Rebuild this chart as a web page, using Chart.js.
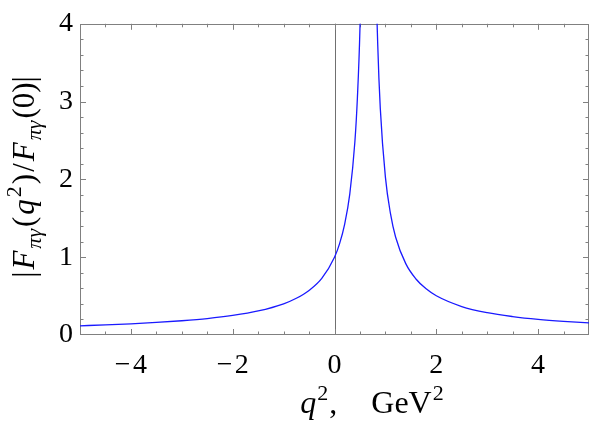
<!DOCTYPE html>
<html>
<head>
<meta charset="utf-8">
<script src="https://cdn.jsdelivr.net/npm/chart.js@4"></script>
<style>
  html, body { margin: 0; padding: 0; background: #fff; }
  #wrap { width: 591px; height: 431px; position: relative; }
</style>
</head>
<body>
<div id="wrap"><canvas id="c" width="591" height="431"></canvas></div>
<script>
// q^2 values (GeV^2) and |F(q^2)/F(0)|; null = gap at the pole
const qValues = [-5, -4.5, -4, -3.5, -3, -2.5, -2, -1.5, -1, -0.75, -0.5, -0.25, 0, 0.1, 0.2, 0.3, 0.4, 0.45, 0.5, 0.55, 0.6,
                 0.67,
                 0.75, 0.8, 0.85, 0.9, 1.0, 1.1, 1.2, 1.4, 1.6, 1.8, 2.0, 2.5, 3.0, 3.5, 4.0, 4.5, 5.0];
const ffValues = [0.118, 0.130, 0.143, 0.161, 0.183, 0.211, 0.251, 0.309, 0.401, 0.472, 0.573, 0.728, 1.0, 1.175, 1.426, 1.811, 2.48, 3.05, 3.94, 5.58, 9.6,
                  null,
                  8.4, 5.15, 3.72, 2.91, 2.03, 1.56, 1.26, 0.917, 0.72, 0.593, 0.504, 0.366, 0.287, 0.237, 0.201, 0.175, 0.155];
const xTickValues = [-4, -2, 0, 2, 4];
const yTickValues = [0, 1, 2, 3, 4];
const xMinorStep = 0.5;
const yMinorStep = 0.2;

const SERIF = "'Liberation Serif', 'DejaVu Serif', serif";
const FRAME = '#808080';

function fmt(v) { return v < 0 ? '\u2212\u200a' + Math.abs(v) : String(v); }

function drawRich(ctx, parts, base, spacing) {
  let w = 0;
  for (const p of parts) {
    ctx.font = (p.it ? 'italic ' : '') + Math.round(base * (p.s || 1)) + 'px ' + SERIF;
    p.w = ctx.measureText(p.t).width + (p.kern || 0) * base + spacing;
    w += p.w;
  }
  w -= spacing;
  let x = -w / 2;
  ctx.textBaseline = 'alphabetic';
  ctx.textAlign = 'left';
  for (const p of parts) {
    ctx.font = (p.it ? 'italic ' : '') + Math.round(base * (p.s || 1)) + 'px ' + SERIF;
    ctx.fillText(p.t, x + (p.pre || 0) * base, (p.dy || 0) * base);
    x += p.w;
  }
  return w;
}

const framePlugin = {
  id: 'frame',
  beforeDatasetsDraw(chart) {
    const { ctx, chartArea: a, scales } = chart;
    const xs = scales.x, ys = scales.y;
    ctx.save();
    ctx.strokeStyle = FRAME;
    ctx.lineWidth = 1;
    ctx.strokeRect(Math.round(a.left) + 0.5, Math.round(a.top) + 0.5,
                   Math.round(a.right - a.left) - 1, Math.round(a.bottom - a.top) - 1);
    const x0 = Math.round(xs.getPixelForValue(0)) + 0.5;
    ctx.strokeStyle = '#707070';
    ctx.beginPath(); ctx.moveTo(x0, a.top); ctx.lineTo(x0, a.bottom); ctx.stroke();
    ctx.strokeStyle = FRAME;
    ctx.beginPath();
    for (let v = xs.min; v <= xs.max + 1e-9; v += xMinorStep) {
      const vv = Math.round(v * 100) / 100;
      const major = xTickValues.includes(vv);
      const len = major ? 6 : 3.5;
      const px = Math.round(xs.getPixelForValue(vv)) + 0.5;
      if (px <= a.left + 1 || px >= a.right - 1) continue;
      ctx.moveTo(px, a.bottom); ctx.lineTo(px, a.bottom - len);
      ctx.moveTo(px, a.top); ctx.lineTo(px, a.top + len);
    }
    for (let v = ys.min; v <= ys.max + 1e-9; v += yMinorStep) {
      const vv = Math.round(v * 100) / 100;
      const major = yTickValues.includes(vv);
      const len = major ? 6 : 3.5;
      const py = Math.round(ys.getPixelForValue(vv)) + 0.5;
      if (py <= a.top + 1 || py >= a.bottom - 1) continue;
      ctx.moveTo(a.left, py); ctx.lineTo(a.left + len, py);
      ctx.moveTo(a.right, py); ctx.lineTo(a.right - len, py);
    }
    ctx.stroke();
    ctx.restore();
  },
  afterDraw(chart) {
    const { ctx } = chart;
    ctx.save();
    ctx.fillStyle = '#000';
    ctx.translate(34, 177);
    ctx.rotate(-Math.PI / 2);
    drawRich(ctx, [
      { t: '|' },
      { t: 'F', it: true },
      { t: '\u03c0\u03b3', it: true, s: 0.7, dy: 0.22 },
      { t: '(' },
      { t: 'q', it: true },
      { t: '2', s: 0.7, dy: -0.42 },
      { t: ')' },
      { t: '/' },
      { t: 'F', it: true },
      { t: '\u03c0\u03b3', it: true, s: 0.7, dy: 0.22 },
      { t: '(0)|' }
    ], 31, 2);
    ctx.restore();
    ctx.save();
    ctx.fillStyle = '#000';
    ctx.translate(372, 413);
    drawRich(ctx, [
      { t: 'q', it: true },
      { t: '2', s: 0.7, dy: -0.42 },
      { t: ',' },
      { t: '\u2003' },
      { t: 'GeV' },
      { t: '2', s: 0.7, dy: -0.42 }
    ], 32, 1);
    ctx.restore();
  }
};

const points = qValues.map((q, i) => ({ x: q, y: ffValues[i] }));

new Chart(document.getElementById('c'), {
  type: 'line',
  data: {
    datasets: [{
      data: points,
      borderColor: '#1a1aff',
      borderWidth: 1.3,
      pointRadius: 0,
      fill: false,
      spanGaps: false,
      cubicInterpolationMode: 'monotone'
    }]
  },
  options: {
    responsive: false,
    animation: false,
    devicePixelRatio: 1,
    layout: { padding: { left: 0, right: 2, top: 20, bottom: 0 } },
    plugins: { legend: { display: false }, tooltip: { enabled: false } },
    scales: {
      x: {
        type: 'linear', min: -5, max: 5,
        afterBuildTicks(s) { s.ticks = xTickValues.map(v => ({ value: v })); },
        afterFit(s) { s.height = 96; },
        grid: { display: false, drawTicks: false },
        border: { display: false },
        ticks: {
          padding: 14, color: '#000', maxRotation: 0, autoSkip: false,
          font: { family: SERIF, size: 28 },
          callback: v => fmt(v)
        }
      },
      y: {
        type: 'linear', min: 0, max: 4,
        afterBuildTicks(s) { s.ticks = yTickValues.map(v => ({ value: v })); },
        afterFit(s) { s.width = 80; },
        grid: { display: false, drawTicks: false },
        border: { display: false },
        ticks: {
          padding: 7, color: '#000', autoSkip: false,
          font: { family: SERIF, size: 28 },
          callback: v => fmt(v)
        }
      }
    }
  },
  plugins: [framePlugin]
});
</script>
</body>
</html>
